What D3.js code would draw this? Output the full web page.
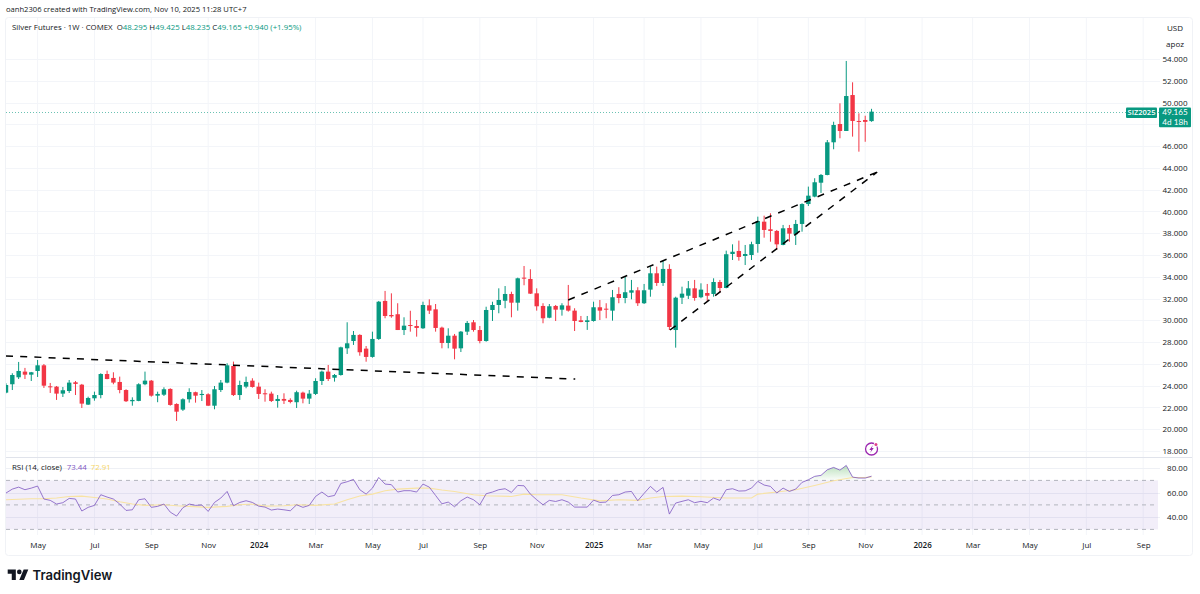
<!DOCTYPE html>
<html>
<head>
<meta charset="utf-8">
<title>Silver Futures weekly</title>
<script src="https://cdn.jsdelivr.net/npm/d3@7/dist/d3.min.js"></script>
<style>
  html, body { margin: 0; padding: 0; background: #fff; }
  svg { display: block; }
  text { font-family: "Open Sans", "Noto Sans", sans-serif; fill: #131722; }
</style>
</head>
<body>
<svg id="chart" width="1200" height="594"></svg>
<script>
// Weekly candles, oldest first
const opens = [23.36,24.13,24.77,25.29,25.01,25.35,25.87,23.94,23.91,23.27,23.51,24.31,24.09,22.26,22.84,23.14,25.07,24.71,24.34,23.60,22.57,22.60,24.13,24.46,23.08,23.17,23.70,22.32,21.80,22.75,23.40,23.14,23.21,22.16,23.60,24.28,25.81,23.14,23.91,24.46,23.91,23.30,23.27,22.59,22.78,22.69,22.48,23.36,22.81,23.24,24.43,25.29,24.73,24.98,27.43,28.10,28.66,27.40,26.64,28.29,31.78,30.49,30.56,29.11,29.57,29.48,29.27,31.38,31.01,29.33,27.92,28.59,27.43,28.96,29.82,29.11,28.10,30.95,31.41,31.80,32.42,31.62,33.92,33.80,32.48,31.32,30.24,31.32,30.98,31.35,30.89,30.00,29.85,29.94,31.20,31.07,30.89,32.42,32.05,32.54,32.76,31.57,32.82,34.32,33.43,34.72,29.11,32.08,32.26,32.94,32.12,32.51,32.42,33.52,32.97,36.09,36.37,35.91,36.00,37.01,39.06,38.36,38.21,36.92,38.48,37.90,38.85,40.68,41.36,42.64,43.35,46.35,48.03,47.39,50.69,48.31,48.40,48.295];
const highs = [24.22,25.14,26.18,25.63,25.26,26.36,25.99,24.25,23.97,23.88,24.52,24.43,24.16,22.99,23.45,25.14,25.38,25.23,24.83,23.67,22.93,24.22,25.29,24.52,23.45,23.85,23.76,22.38,22.84,23.76,23.45,23.60,23.30,23.97,24.52,26.06,26.21,24.46,24.83,24.68,24.28,23.67,23.45,23.14,23.30,22.84,23.54,23.45,23.60,24.68,25.38,25.90,25.07,27.58,29.82,29.02,28.72,27.64,28.96,31.78,32.70,32.48,31.57,30.28,30.88,30.03,31.71,31.93,31.50,29.42,29.27,28.75,29.02,29.94,30.03,29.48,31.25,31.71,32.94,33.15,32.63,33.92,34.99,34.69,32.94,31.57,31.50,31.41,31.57,33.25,31.11,30.40,30.40,31.71,31.87,31.57,32.79,33.04,34.01,33.71,33.04,33.34,34.93,34.93,35.48,35.15,32.17,33.09,33.61,33.71,33.40,33.34,33.86,33.71,36.40,36.98,37.32,36.92,37.22,39.52,39.61,39.83,38.30,38.76,38.76,39.22,40.75,42.28,43.05,43.44,46.56,48.24,49.93,53.82,51.86,49.01,48.79,49.425];
const lows = [23.30,23.60,24.61,24.61,24.43,24.80,23.79,23.33,22.69,22.96,23.33,23.14,21.95,22.23,22.62,22.84,24.59,24.13,23.30,22.50,22.16,22.57,24.04,22.99,22.48,23.05,22.16,20.76,21.68,22.44,22.44,22.59,22.14,21.83,23.42,24.22,23.05,22.69,23.76,23.82,22.78,22.53,22.50,21.98,22.32,22.38,21.95,22.38,22.32,23.14,24.06,24.43,24.37,24.92,26.91,27.74,26.75,26.20,26.57,28.20,30.19,30.24,29.11,28.65,28.96,28.50,29.21,30.58,28.96,27.43,27.43,26.42,27.09,28.65,28.96,27.89,28.04,29.94,30.65,31.11,30.28,30.89,33.22,32.42,30.89,29.73,30.19,29.94,30.43,30.80,29.02,29.82,29.12,29.88,30.03,30.19,29.97,31.57,31.57,31.93,31.32,31.50,32.17,33.16,33.16,29.11,27.49,31.50,31.96,31.80,32.03,31.78,32.17,32.54,32.94,35.54,35.48,35.08,35.54,36.21,37.59,37.22,36.46,36.89,37.22,36.92,38.14,40.50,41.30,41.70,43.32,45.71,46.72,47.39,46.87,45.49,46.40,48.235];
const closes = [24.06,24.98,25.35,25.01,25.23,25.87,24.00,23.88,23.27,23.58,24.28,24.16,22.35,22.87,23.14,25.07,24.61,24.28,23.60,22.57,22.69,24.13,24.46,23.08,23.24,23.67,22.23,21.61,22.75,23.42,23.08,23.24,22.16,23.67,24.28,25.87,23.14,24.06,24.34,23.88,23.24,23.21,22.59,22.78,22.62,22.50,23.40,22.81,23.27,24.43,25.29,24.61,24.98,27.52,27.89,28.66,27.07,26.64,28.29,31.71,30.40,30.37,29.11,29.51,29.48,29.30,31.41,30.89,29.30,27.92,28.59,27.40,28.96,29.76,29.11,28.10,30.95,31.41,31.87,32.42,31.62,33.86,33.86,32.45,31.29,30.19,31.29,30.98,31.38,30.89,29.94,29.85,30.00,31.20,30.89,30.98,32.12,32.05,32.58,32.76,31.57,32.76,34.32,33.43,34.72,29.39,32.08,32.45,32.94,32.05,32.82,32.26,33.52,32.97,36.07,36.30,35.82,36.09,36.99,39.12,38.30,38.21,36.98,38.45,37.96,38.85,40.68,41.45,42.68,43.35,46.35,47.94,47.39,50.60,48.31,48.25,48.225,49.165];

// RSI(14) by week
const rsiValues = [59.7,62.9,64.5,62.4,63.7,65.4,54.8,53.7,50.7,51.8,55.3,54.8,45,48,49.6,58.3,56.4,54.8,50.7,45.5,46,54.2,55,48,48.8,50.7,44.1,40.9,47.7,50.7,49.6,49.9,44.7,52,55.6,61,49.3,52,53.4,52,49,48.2,45.8,46.6,46,45.2,50.1,48,49.6,56.9,60.5,56.7,57.7,67.5,68.9,70.8,62.4,58.8,63.7,72.4,67,66.5,60.5,61.6,61.6,60.5,67,64.5,57.7,50.9,52.3,48.5,53.4,56.4,54.2,50.1,59.1,60.5,62.4,63.2,60.2,65.9,65.6,58.8,54.2,50.1,53.7,52.8,54.2,52.3,48.2,48.2,48.2,53.9,52,52.3,57.7,58.3,60.5,61,53.4,59.4,65.1,60.5,64.3,42.5,51.5,52.9,54.2,51.8,52.9,51.8,55.6,53.7,62.4,63.2,61.3,61.5,63.7,69.2,66.2,65.1,59.7,63.7,61,62.9,68.4,70.5,73.3,74.1,78.7,80.6,78.4,82.2,72.7,71.9,71.9,73.44];

// RSI moving average, knots read at the listed weeks
const rsiMaWeeks = [0,4,6,8,10,12,14,16,18,20,22,25,27,29,32,35,37,39,41,44,46,49,52,54,56,58,60,62,65,67,69,71,74,76,80,82,84,88,91,94,97,100,102,104,107,110,114,118,119,122,125,128,131,134,136,137];
const rsiMaValues = [54.2,55,55,55.6,56.9,57.2,56.1,54.8,52.6,50.7,49.6,50.1,49.3,48.8,48,48.8,50.1,50.7,49,49.3,50.1,49.6,50.7,54.2,57.2,58.8,61.5,62.9,63.7,63.7,62.1,61,58.3,57.5,56.9,58.8,58.3,58.3,55.6,53.3,54.2,53.7,55.6,56.9,57.2,56.7,55.6,55.6,58.8,60.5,62.4,65.9,69.7,72.4,72.4,72.91];

// Hand-drawn trendlines: [week, price] end points
const trendWedgeFlat = [[0, 26.73], [90.1, 24.61]];
const trendWedgeUpper = [[89, 31.87], [137.9, 43.62]];
const trendWedgeLower = [[105.1, 29.11], [137.9, 43.62]];

const priceTicks = [18,20,22,24,26,28,30,32,34,36,38,40,42,44,46,48,50,52,54];
const rsiTicks = [80,60,40];
const timeTickWeeks = [5,14,23,32,40,49,58,66,75,84,93,101,110,119,127,136,145,153,162,171,180];
const timeTickLabels = ["May","Jul","Sep","Nov","2024","Mar","May","Jul","Sep","Nov","2025","Mar","May","Jul","Sep","Nov","2026","Mar","May","Jul","Sep"];

const UP = "#089981", DOWN = "#f23645", GRID = "#f3f5f9", PURPLE = "#7e57c2", YELLOW = "#f8e3a3";
const frame = { left: 6, right: 1192, top: 18, bottom: 555 };
const plotRight = 1160;

const x = d3.scaleLinear().domain([0, 180]).range([6, 1143.2]);
const y = d3.scaleLinear().domain([18, 54]).range([451, 59]);
const yRsi = d3.scaleLinear().domain([30, 70]).range([529.4, 480.4]);

const svg = d3.select("#chart");
const defs = svg.append("defs");
defs.append("clipPath").attr("id", "plot").append("rect")
  .attr("x", frame.left).attr("y", frame.top)
  .attr("width", plotRight - frame.left).attr("height", 535 - frame.top);
const fade = defs.append("linearGradient").attr("id", "obFade")
  .attr("x1", 0).attr("x2", 0).attr("y1", 0).attr("y2", 1);
fade.append("stop").attr("offset", "0%").attr("stop-color", "#4caf50").attr("stop-opacity", 0.38);
fade.append("stop").attr("offset", "100%").attr("stop-color", "#4caf50").attr("stop-opacity", 0.02);

// Outer frame
svg.append("rect")
  .attr("x", frame.left - 0.5).attr("y", frame.top - 0.5)
  .attr("width", frame.right - frame.left + 1).attr("height", frame.bottom - frame.top + 1)
  .attr("rx", 3).attr("fill", "none").attr("stroke", "#f0f2f6");

// Grid
const grid = svg.append("g").attr("stroke", GRID).attr("stroke-width", 1);
grid.selectAll(".gx").data(timeTickWeeks).join("line").attr("class", "gx")
  .attr("x1", d => x(d)).attr("x2", d => x(d)).attr("y1", frame.top).attr("y2", 535);
grid.selectAll(".gy").data(priceTicks).join("line").attr("class", "gy")
  .attr("x1", frame.left).attr("x2", plotRight)
  .attr("y1", d => Math.round(y(d)) + 0.5).attr("y2", d => Math.round(y(d)) + 0.5);

// RSI pane
svg.append("rect").attr("x", frame.left).attr("width", 1158 - frame.left)
  .attr("y", yRsi(70)).attr("height", yRsi(30) - yRsi(70)).attr("fill", PURPLE).attr("fill-opacity", 0.1);
grid.selectAll(".gr").data(rsiTicks).join("line").attr("class", "gr")
  .attr("x1", frame.left).attr("x2", plotRight)
  .attr("y1", d => Math.round(yRsi(d)) + 0.5).attr("y2", d => Math.round(yRsi(d)) + 0.5)
  .attr("stroke", "#eef0f5");
svg.append("g").selectAll("line").data([70, 50, 30]).join("line")
  .attr("x1", frame.left).attr("x2", 1158)
  .attr("y1", d => yRsi(d)).attr("y2", d => yRsi(d))
  .attr("stroke", "#b2b5be").attr("stroke-width", 1).attr("stroke-dasharray", "4 4");
svg.append("line").attr("x1", frame.left).attr("x2", frame.right).attr("y1", 457.5).attr("y2", 457.5)
  .attr("stroke", "#e0e3eb");

const chart = svg.append("g").attr("clip-path", "url(#plot)");

// Last price line
const lastY = y(closes[closes.length - 1]);
chart.append("line").attr("x1", frame.left).attr("x2", plotRight)
  .attr("y1", Math.round(lastY) + 0.5).attr("y2", Math.round(lastY) + 0.5)
  .attr("stroke", UP).attr("stroke-width", 1).attr("stroke-dasharray", "1 2").attr("stroke-opacity", 0.6);

// Candles
const candles = closes.map((c, i) => ({ i, o: opens[i], h: highs[i], l: lows[i], c }));
const bodyW = 4.4;
const candleG = chart.selectAll(".candle").data(candles).join("g").attr("class", "candle")
  .attr("fill", d => d.c >= d.o ? UP : DOWN).attr("stroke", d => d.c >= d.o ? UP : DOWN);
candleG.append("line")
  .attr("x1", d => x(d.i)).attr("x2", d => x(d.i))
  .attr("y1", d => y(d.h)).attr("y2", d => y(d.l)).attr("stroke-width", 1);
candleG.append("rect")
  .attr("x", d => x(d.i) - bodyW / 2).attr("width", bodyW)
  .attr("y", d => y(Math.max(d.o, d.c)))
  .attr("height", d => Math.max(1, Math.abs(y(d.o) - y(d.c))))
  .attr("stroke", "none");

// Trendlines
[trendWedgeFlat, trendWedgeUpper, trendWedgeLower].forEach(pts => {
  chart.append("line")
    .attr("x1", x(pts[0][0])).attr("y1", y(pts[0][1]))
    .attr("x2", x(pts[1][0])).attr("y2", y(pts[1][1]))
    .attr("stroke", "#000").attr("stroke-width", 1.5).attr("stroke-dasharray", "7 7.2");
});

// RSI overbought fill, moving average and line
const obPoints = rsiValues.map((v, i) => ({ i, v })).filter(d => d.i >= 126 && d.i <= 135);
chart.append("path").datum(obPoints)
  .attr("d", d3.area().x(d => x(d.i)).y0(yRsi(70)).y1(d => yRsi(Math.max(d.v, 70))))
  .attr("fill", "url(#obFade)");
chart.append("path").datum(rsiMaWeeks.map((w, k) => [w, rsiMaValues[k]]))
  .attr("d", d3.line().x(d => x(d[0])).y(d => yRsi(d[1])))
  .attr("fill", "none").attr("stroke", YELLOW).attr("stroke-width", 1.1);
chart.append("path").datum(rsiValues)
  .attr("d", d3.line().x((d, i) => x(i)).y(d => yRsi(d)))
  .attr("fill", "none").attr("stroke", PURPLE).attr("stroke-width", 1).attr("stroke-opacity", 0.8);

// Axes
const axisFont = 8;
const yAxis = svg.append("g").attr("transform", "translate(1187.5,0)")
  .call(d3.axisLeft(y).tickValues(priceTicks).tickSize(0).tickFormat(d3.format(".3f")));
const rAxis = svg.append("g").attr("transform", "translate(1187.5,0)")
  .call(d3.axisLeft(yRsi).tickValues(rsiTicks).tickSize(0).tickFormat(d3.format(".2f")));
const tAxis = svg.append("g").attr("transform", "translate(0,538)")
  .call(d3.axisBottom(x).tickValues(timeTickWeeks).tickSize(0)
    .tickFormat((d, k) => timeTickLabels[k]));
[yAxis, rAxis, tAxis].forEach(a => {
  a.select(".domain").remove();
  a.selectAll("text").attr("font-family", '"Open Sans", sans-serif').attr("font-size", axisFont).attr("fill", "#131722");
});
yAxis.selectAll("text").attr("x", 0);
rAxis.selectAll("text").attr("x", 0);
tAxis.selectAll("text").attr("y", 4.5)
  .attr("font-weight", d => { const l = timeTickLabels[timeTickWeeks.indexOf(d)]; return /^\d/.test(l) ? 600 : 400; });

// Price labels on the axis
const tagTop = Math.round(lastY) - 5;
svg.append("rect").attr("x", 1126).attr("y", tagTop + 0.6).attr("width", 31).attr("height", 10.4).attr("rx", 1).attr("fill", UP);
svg.append("text").attr("x", 1141.5).attr("y", tagTop + 8.3).attr("text-anchor", "middle")
  .attr("font-size", 7.5).attr("font-weight", 600).style("fill", "#fff").text("SIZ2025");
svg.append("rect").attr("x", 1159).attr("y", tagTop + 0.6).attr("width", 32).attr("height", 19.6).attr("rx", 1).attr("fill", UP);
svg.append("text").attr("x", 1175).attr("y", tagTop + 8.2).attr("text-anchor", "middle")
  .style("font-family", "Lato, sans-serif").attr("font-size", 8.2).style("fill", "#fff").text(d3.format(".3f")(closes[closes.length - 1]));
svg.append("text").attr("x", 1175).attr("y", tagTop + 18.2).attr("text-anchor", "middle")
  .style("font-family", "Lato, sans-serif").attr("font-size", 8.2).style("fill", "#fff").text("4d 18h");

// Currency and unit box
svg.append("rect").attr("x", 1161).attr("y", 20).attr("width", 30).attr("height", 32).attr("rx", 2).attr("fill", "#fff");
svg.append("text").attr("x", 1175).attr("y", 31).attr("text-anchor", "middle").attr("font-size", axisFont).text("USD");
svg.append("text").attr("x", 1175).attr("y", 47).attr("text-anchor", "middle").attr("font-size", axisFont).text("apoz");

// Header
svg.append("text").attr("x", 6).attr("y", 12.3).attr("font-size", 7.6)
  .text("oanh2306 created with TradingView.com, Nov 10, 2025 11:28 UTC+7");
const legend = svg.append("text").attr("x", 12).attr("y", 30).attr("font-size", 7.85);
const fmt = d3.format(".3f");
const n = closes.length - 1;
const legendParts = [
  ["Silver Futures · 1W · COMEX  ", "#131722"],
  ["O", "#131722"], [fmt(opens[n]) + " ", UP],
  ["H", "#131722"], [fmt(highs[n]) + " ", UP],
  ["L", "#131722"], [fmt(lows[n]) + " ", UP],
  ["C", "#131722"], [fmt(closes[n]) + " ", UP],
  ["+0.940 (+1.95%)", UP]
];
legend.selectAll("tspan").data(legendParts).join("tspan")
  .style("white-space", "pre").style("fill", d => d[1]).text(d => d[0]);

// RSI legend
const rsiLegendY = 470;
svg.append("text").attr("x", 12).attr("y", rsiLegendY).attr("font-size", 7.9).text("RSI (14, close)");
svg.append("text").attr("x", 66.7).attr("y", rsiLegendY).attr("font-size", 7.9).style("fill", PURPLE).text(d3.format(".2f")(rsiValues[n]));
svg.append("text").attr("x", 90.7).attr("y", rsiLegendY).attr("font-size", 7.9).style("fill", "#f5d565").text(d3.format(".2f")(rsiMaValues[rsiMaValues.length - 1]));

// Event marker
const marker = svg.append("g").attr("transform", `translate(${x(137)},449)`);
marker.append("circle").attr("r", 6).attr("fill", "#fff").attr("stroke", "#9c27b0").attr("stroke-width", 1.3);
marker.append("path").attr("d", "M1.4,-4 L-2.2,0.9 L-0.2,0.9 L-1.4,4 L2.2,-0.9 L0.2,-0.9 Z").attr("fill", "#9c27b0");
marker.append("circle").attr("cx", 4.4).attr("cy", -4.4).attr("r", 2.3).attr("fill", "#fff");
marker.append("circle").attr("cx", 4.4).attr("cy", -4.4).attr("r", 1.5).attr("fill", "#e0408a");

// Wordmark
const logo = svg.append("g").attr("transform", "translate(7.7,567.3) scale(0.58)").attr("fill", "#131722");
logo.append("path").attr("d", "M14 22H7V11H0V4h14v18zM28 22h-8l7.5-18h8L28 22z");
logo.append("circle").attr("cx", 20).attr("cy", 8).attr("r", 4);
svg.append("text").attr("x", 32.5).attr("y", 579.5)
  .style("font-family", "Inter, sans-serif").attr("font-size", 13.1).attr("font-weight", 600).text("TradingView");
</script>
</body>
</html>
